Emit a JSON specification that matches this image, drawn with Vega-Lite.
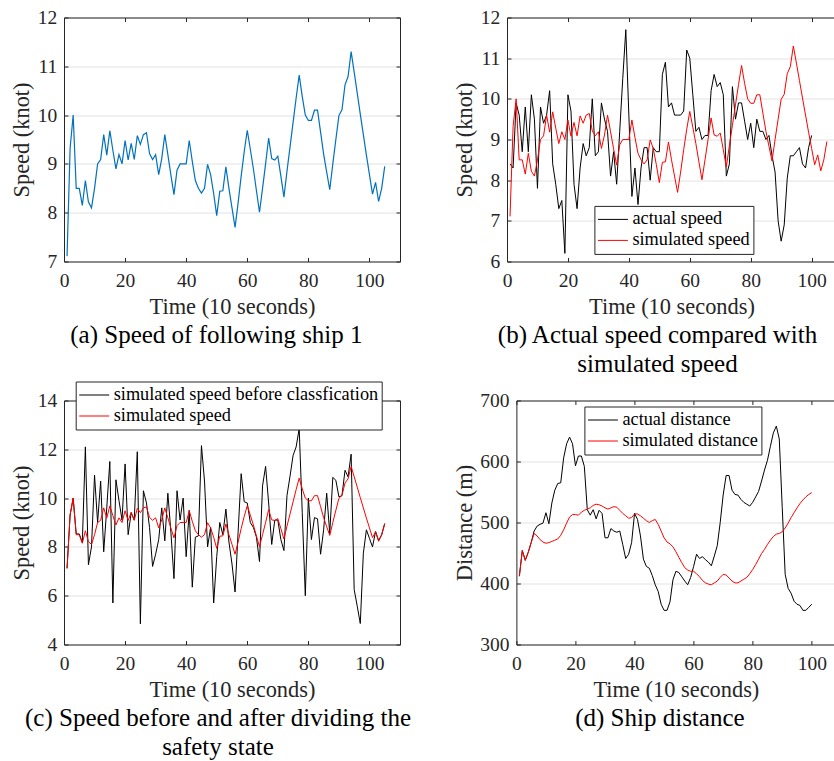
{
"$schema": "https://vega.github.io/schema/vega-lite/v6.json",
"background": "white",
"padding": {"left": 10, "top": 7.5, "right": 0, "bottom": 0},
"config": {
  "font": "Liberation Serif",
  "view": {"stroke": null},
  "axis": {"labelFont": "Liberation Serif", "labelFontSize": 19.5, "labelColor": "#262626", "titleFont": "Liberation Serif", "titleFontSize": 22.4, "titleFontWeight": "normal", "titleColor": "#262626", "domainColor": "#262626", "tickColor": "#262626", "tickSize": -4, "domainWidth": 1, "tickWidth": 1, "gridColor": "#e2e2e2", "gridWidth": 1, "labelFlush": false, "labelOverlap": false},
  "axisX": {"labelPadding": 14, "titlePadding": 5.5},
  "axisY": {"labelPadding": 11.3, "titlePadding": 3.5},
  "title": {"font": "Liberation Serif", "fontSize": 25, "fontWeight": "normal", "color": "#000000", "orient": "bottom", "anchor": "middle", "frame": "group", "offset": 5, "lineHeight": 29},
  "legend": {"labelFont": "Liberation Serif", "labelFontSize": 18.3, "labelColor": "#000000", "labelLimit": 500, "symbolType": "stroke", "symbolSize": 900, "symbolStrokeWidth": 1, "strokeColor": "#262626", "fillColor": "#ffffff", "padding": 3, "rowPadding": 0, "clipHeight": 21, "labelOffset": 4, "cornerRadius": 0}
},
"datasets": {
  "speed": [
    {"t":1,"simulated speed":7.11,"actual speed":8.4,"simulated speed before classfication":7.13},
    {"t":2,"simulated speed":9.32,"actual speed":8.3,"simulated speed before classfication":9.3},
    {"t":3,"simulated speed":10.0,"actual speed":9.9,"simulated speed before classfication":10.0},
    {"t":4,"simulated speed":8.5,"actual speed":9.6,"simulated speed before classfication":8.53},
    {"t":5,"simulated speed":8.5,"actual speed":8.7,"simulated speed before classfication":8.53},
    {"t":6,"simulated speed":8.15,"actual speed":9.8,"simulated speed before classfication":8.18},
    {"t":7,"simulated speed":8.66,"actual speed":8.7,"simulated speed before classfication":12.1},
    {"t":8,"simulated speed":8.22,"actual speed":10.1,"simulated speed before classfication":7.27},
    {"t":9,"simulated speed":8.1,"actual speed":9.5,"simulated speed before classfication":8.0},
    {"t":10,"simulated speed":8.5,"actual speed":7.8,"simulated speed before classfication":10.94},
    {"t":11,"simulated speed":9.0,"actual speed":9.8,"simulated speed before classfication":9.0},
    {"t":12,"simulated speed":9.09,"actual speed":9.4,"simulated speed before classfication":10.7},
    {"t":13,"simulated speed":9.6,"actual speed":9.6,"simulated speed before classfication":7.8},
    {"t":14,"simulated speed":9.18,"actual speed":10.2,"simulated speed before classfication":9.6},
    {"t":15,"simulated speed":9.68,"actual speed":8.4,"simulated speed before classfication":11.5},
    {"t":16,"simulated speed":9.28,"actual speed":7.9,"simulated speed before classfication":5.7},
    {"t":17,"simulated speed":8.9,"actual speed":7.3,"simulated speed before classfication":10.75},
    {"t":18,"simulated speed":9.19,"actual speed":7.5,"simulated speed before classfication":9.9},
    {"t":19,"simulated speed":9.0,"actual speed":6.2,"simulated speed before classfication":9.1},
    {"t":20,"simulated speed":9.48,"actual speed":10.1,"simulated speed before classfication":11.4},
    {"t":21,"simulated speed":9.08,"actual speed":9.7,"simulated speed before classfication":8.5},
    {"t":22,"simulated speed":9.42,"actual speed":7.9,"simulated speed before classfication":9.4},
    {"t":23,"simulated speed":9.09,"actual speed":7.3,"simulated speed before classfication":9.1},
    {"t":24,"simulated speed":9.58,"actual speed":8.3,"simulated speed before classfication":11.9},
    {"t":25,"simulated speed":9.4,"actual speed":8.9,"simulated speed before classfication":4.85},
    {"t":26,"simulated speed":9.6,"actual speed":8.6,"simulated speed before classfication":10.3},
    {"t":27,"simulated speed":9.64,"actual speed":8.8,"simulated speed before classfication":9.8},
    {"t":28,"simulated speed":9.21,"actual speed":10.0,"simulated speed before classfication":8.8},
    {"t":29,"simulated speed":9.09,"actual speed":8.6,"simulated speed before classfication":7.2},
    {"t":30,"simulated speed":9.19,"actual speed":8.7,"simulated speed before classfication":7.7},
    {"t":31,"simulated speed":8.78,"actual speed":9.9,"simulated speed before classfication":8.3},
    {"t":32,"simulated speed":9.11,"actual speed":9.5,"simulated speed before classfication":9.6},
    {"t":33,"simulated speed":9.6,"actual speed":9.2,"simulated speed before classfication":8.25},
    {"t":34,"simulated speed":9.19,"actual speed":8.1,"simulated speed before classfication":10.2},
    {"t":35,"simulated speed":8.77,"actual speed":8.7,"simulated speed before classfication":8.6},
    {"t":36,"simulated speed":8.37,"actual speed":7.9,"simulated speed before classfication":6.7},
    {"t":37,"simulated speed":8.87,"actual speed":9.2,"simulated speed before classfication":10.3},
    {"t":38,"simulated speed":9.0,"actual speed":10.5,"simulated speed before classfication":9.1},
    {"t":39,"simulated speed":9.0,"actual speed":11.7,"simulated speed before classfication":10.0},
    {"t":40,"simulated speed":9.0,"actual speed":9.6,"simulated speed before classfication":7.6},
    {"t":41,"simulated speed":9.48,"actual speed":7.6,"simulated speed before classfication":9.5},
    {"t":42,"simulated speed":9.05,"actual speed":8.3,"simulated speed before classfication":6.35},
    {"t":43,"simulated speed":8.66,"actual speed":7.4,"simulated speed before classfication":8.4},
    {"t":44,"simulated speed":8.5,"actual speed":8.3,"simulated speed before classfication":8.45},
    {"t":45,"simulated speed":8.4,"actual speed":8.8,"simulated speed before classfication":12.15},
    {"t":46,"simulated speed":8.5,"actual speed":8.8,"simulated speed before classfication":10.7},
    {"t":47,"simulated speed":8.99,"actual speed":8.0,"simulated speed before classfication":8.0},
    {"t":48,"simulated speed":8.78,"actual speed":8.8,"simulated speed before classfication":8.8},
    {"t":49,"simulated speed":8.39,"actual speed":8.7,"simulated speed before classfication":5.7},
    {"t":50,"simulated speed":7.94,"actual speed":8.7,"simulated speed before classfication":7.6},
    {"t":51,"simulated speed":8.44,"actual speed":10.6,"simulated speed before classfication":9.0},
    {"t":52,"simulated speed":8.45,"actual speed":10.9,"simulated speed before classfication":8.5},
    {"t":53,"simulated speed":8.94,"actual speed":9.8,"simulated speed before classfication":9.55},
    {"t":54,"simulated speed":8.5,"actual speed":9.9,"simulated speed before classfication":8.2},
    {"t":55,"simulated speed":8.1,"actual speed":9.6,"simulated speed before classfication":7.3},
    {"t":56,"simulated speed":7.7,"actual speed":9.6,"simulated speed before classfication":6.15},
    {"t":57,"simulated speed":8.2,"actual speed":9.6,"simulated speed before classfication":8.6},
    {"t":58,"simulated speed":8.75,"actual speed":9.7,"simulated speed before classfication":11.0},
    {"t":59,"simulated speed":9.25,"actual speed":11.2,"simulated speed before classfication":9.85},
    {"t":60,"simulated speed":9.69,"actual speed":11.0,"simulated speed before classfication":9.8},
    {"t":61,"simulated speed":9.3,"actual speed":10.1,"simulated speed before classfication":9.0},
    {"t":62,"simulated speed":8.9,"actual speed":9.2,"simulated speed before classfication":8.8},
    {"t":63,"simulated speed":8.45,"actual speed":9.3,"simulated speed before classfication":8.4},
    {"t":64,"simulated speed":8.01,"actual speed":9.0,"simulated speed before classfication":7.4},
    {"t":65,"simulated speed":8.5,"actual speed":9.1,"simulated speed before classfication":10.5},
    {"t":66,"simulated speed":9.0,"actual speed":9.1,"simulated speed before classfication":11.3},
    {"t":67,"simulated speed":9.53,"actual speed":10.2,"simulated speed before classfication":9.8},
    {"t":68,"simulated speed":9.11,"actual speed":10.6,"simulated speed before classfication":8.1},
    {"t":69,"simulated speed":9.08,"actual speed":10.3,"simulated speed before classfication":9.1},
    {"t":70,"simulated speed":9.16,"actual speed":10.4,"simulated speed before classfication":9.1},
    {"t":71,"simulated speed":8.75,"actual speed":10.1,"simulated speed before classfication":8.3},
    {"t":72,"simulated speed":8.32,"actual speed":8.1,"simulated speed before classfication":7.85},
    {"t":73,"simulated speed":8.85,"actual speed":8.4,"simulated speed before classfication":10.1},
    {"t":74,"simulated speed":9.35,"actual speed":10.3,"simulated speed before classfication":10.9},
    {"t":75,"simulated speed":9.85,"actual speed":9.5,"simulated speed before classfication":11.75},
    {"t":76,"simulated speed":10.35,"actual speed":9.9,"simulated speed before classfication":12.1},
    {"t":77,"simulated speed":10.82,"actual speed":9.9,"simulated speed before classfication":12.85},
    {"t":78,"simulated speed":10.38,"actual speed":9.45,"simulated speed before classfication":9.4},
    {"t":79,"simulated speed":10.0,"actual speed":9.0,"simulated speed before classfication":6.0},
    {"t":80,"simulated speed":9.89,"actual speed":9.4,"simulated speed before classfication":10.0},
    {"t":81,"simulated speed":9.89,"actual speed":8.8,"simulated speed before classfication":8.3},
    {"t":82,"simulated speed":10.1,"actual speed":9.5,"simulated speed before classfication":9.2},
    {"t":83,"simulated speed":10.1,"actual speed":9.2,"simulated speed before classfication":9.15},
    {"t":84,"simulated speed":9.65,"actual speed":9.2,"simulated speed before classfication":7.7},
    {"t":85,"simulated speed":9.2,"actual speed":9.0,"simulated speed before classfication":8.7},
    {"t":86,"simulated speed":8.83,"actual speed":9.1,"simulated speed before classfication":10.2},
    {"t":87,"simulated speed":8.47,"actual speed":8.6,"simulated speed before classfication":8.55},
    {"t":88,"simulated speed":9.0,"actual speed":8.2,"simulated speed before classfication":10.85},
    {"t":89,"simulated speed":9.5,"actual speed":7.0,"simulated speed before classfication":10.73},
    {"t":90,"simulated speed":9.99,"actual speed":6.5,"simulated speed before classfication":10.05},
    {"t":91,"simulated speed":10.11,"actual speed":6.9,"simulated speed before classfication":10.1},
    {"t":92,"simulated speed":10.62,"actual speed":8.05,"simulated speed before classfication":11.14},
    {"t":93,"simulated speed":10.79,"actual speed":8.6,"simulated speed before classfication":10.87},
    {"t":94,"simulated speed":11.3,"actual speed":8.6,"simulated speed before classfication":11.8},
    {"t":95,"simulated speed":10.88,"actual speed":8.7,"simulated speed before classfication":6.25},
    {"t":96,"simulated speed":10.45,"actual speed":8.8,"simulated speed before classfication":5.57},
    {"t":97,"simulated speed":10.02,"actual speed":8.4,"simulated speed before classfication":4.86},
    {"t":98,"simulated speed":9.6,"actual speed":8.3,"simulated speed before classfication":7.74},
    {"t":99,"simulated speed":9.18,"actual speed":8.8,"simulated speed before classfication":8.7},
    {"t":100,"simulated speed":8.78,"actual speed":9.1,"simulated speed before classfication":8.35},
    {"t":101,"simulated speed":8.38,"simulated speed before classfication":8.0},
    {"t":102,"simulated speed":8.62,"simulated speed before classfication":8.63},
    {"t":103,"simulated speed":8.23,"simulated speed before classfication":8.26},
    {"t":104,"simulated speed":8.5,"simulated speed before classfication":8.5},
    {"t":105,"simulated speed":8.95,"simulated speed before classfication":8.96}
  ],
  "dist": [
    {"t":1,"actual distance":412,"simulated distance":412},
    {"t":2,"actual distance":454,"simulated distance":454},
    {"t":3,"actual distance":438,"simulated distance":438},
    {"t":4,"actual distance":451,"simulated distance":451},
    {"t":5,"actual distance":467,"simulated distance":467},
    {"t":6,"actual distance":486,"simulated distance":482},
    {"t":7,"actual distance":494,"simulated distance":478},
    {"t":8,"actual distance":497,"simulated distance":472},
    {"t":9,"actual distance":499,"simulated distance":468},
    {"t":10,"actual distance":516,"simulated distance":466},
    {"t":11,"actual distance":498,"simulated distance":467},
    {"t":12,"actual distance":532,"simulated distance":469},
    {"t":13,"actual distance":553,"simulated distance":471},
    {"t":14,"actual distance":564,"simulated distance":473},
    {"t":15,"actual distance":565,"simulated distance":479},
    {"t":16,"actual distance":606,"simulated distance":488},
    {"t":17,"actual distance":629,"simulated distance":499},
    {"t":18,"actual distance":640,"simulated distance":509},
    {"t":19,"actual distance":629,"simulated distance":513},
    {"t":20,"actual distance":593,"simulated distance":513},
    {"t":21,"actual distance":609,"simulated distance":512},
    {"t":22,"actual distance":609,"simulated distance":517},
    {"t":23,"actual distance":592,"simulated distance":520},
    {"t":24,"actual distance":521,"simulated distance":522},
    {"t":25,"actual distance":512,"simulated distance":524},
    {"t":26,"actual distance":521,"simulated distance":528},
    {"t":27,"actual distance":506,"simulated distance":530},
    {"t":28,"actual distance":520,"simulated distance":529},
    {"t":29,"actual distance":515,"simulated distance":527},
    {"t":30,"actual distance":475,"simulated distance":524},
    {"t":31,"actual distance":475,"simulated distance":522},
    {"t":32,"actual distance":490,"simulated distance":524},
    {"t":33,"actual distance":486,"simulated distance":526},
    {"t":34,"actual distance":484,"simulated distance":525},
    {"t":35,"actual distance":486,"simulated distance":520},
    {"t":36,"actual distance":464,"simulated distance":515},
    {"t":37,"actual distance":441,"simulated distance":511},
    {"t":38,"actual distance":448,"simulated distance":507},
    {"t":39,"actual distance":467,"simulated distance":508},
    {"t":40,"actual distance":515,"simulated distance":514},
    {"t":41,"actual distance":505,"simulated distance":514},
    {"t":42,"actual distance":478,"simulated distance":511},
    {"t":43,"actual distance":440,"simulated distance":507},
    {"t":44,"actual distance":428,"simulated distance":503},
    {"t":45,"actual distance":425,"simulated distance":500},
    {"t":46,"actual distance":413,"simulated distance":503},
    {"t":47,"actual distance":398,"simulated distance":505},
    {"t":48,"actual distance":387,"simulated distance":497},
    {"t":49,"actual distance":366,"simulated distance":486},
    {"t":50,"actual distance":356,"simulated distance":475},
    {"t":51,"actual distance":356,"simulated distance":468},
    {"t":52,"actual distance":370,"simulated distance":465},
    {"t":53,"actual distance":406,"simulated distance":460},
    {"t":54,"actual distance":420,"simulated distance":452},
    {"t":55,"actual distance":418,"simulated distance":443},
    {"t":56,"actual distance":411,"simulated distance":434},
    {"t":57,"actual distance":404,"simulated distance":426},
    {"t":58,"actual distance":398,"simulated distance":422},
    {"t":59,"actual distance":410,"simulated distance":420},
    {"t":60,"actual distance":428,"simulated distance":420},
    {"t":61,"actual distance":448,"simulated distance":416},
    {"t":62,"actual distance":441,"simulated distance":411},
    {"t":63,"actual distance":444,"simulated distance":405},
    {"t":64,"actual distance":439,"simulated distance":401},
    {"t":65,"actual distance":435,"simulated distance":399},
    {"t":66,"actual distance":429,"simulated distance":398},
    {"t":67,"actual distance":445,"simulated distance":401},
    {"t":68,"actual distance":462,"simulated distance":404},
    {"t":69,"actual distance":500,"simulated distance":410},
    {"t":70,"actual distance":545,"simulated distance":415},
    {"t":71,"actual distance":577,"simulated distance":414},
    {"t":72,"actual distance":577,"simulated distance":409},
    {"t":73,"actual distance":553,"simulated distance":404},
    {"t":74,"actual distance":546,"simulated distance":401},
    {"t":75,"actual distance":545,"simulated distance":401},
    {"t":76,"actual distance":538,"simulated distance":404},
    {"t":77,"actual distance":533,"simulated distance":407},
    {"t":78,"actual distance":530,"simulated distance":410},
    {"t":79,"actual distance":527,"simulated distance":416},
    {"t":80,"actual distance":533,"simulated distance":423},
    {"t":81,"actual distance":542,"simulated distance":431},
    {"t":82,"actual distance":551,"simulated distance":440},
    {"t":83,"actual distance":568,"simulated distance":449},
    {"t":84,"actual distance":586,"simulated distance":456},
    {"t":85,"actual distance":602,"simulated distance":464},
    {"t":86,"actual distance":625,"simulated distance":471},
    {"t":87,"actual distance":647,"simulated distance":477},
    {"t":88,"actual distance":658,"simulated distance":481},
    {"t":89,"actual distance":637,"simulated distance":482},
    {"t":90,"actual distance":525,"simulated distance":485},
    {"t":91,"actual distance":415,"simulated distance":491},
    {"t":92,"actual distance":392,"simulated distance":499},
    {"t":93,"actual distance":384,"simulated distance":508},
    {"t":94,"actual distance":371,"simulated distance":516},
    {"t":95,"actual distance":366,"simulated distance":524},
    {"t":96,"actual distance":364,"simulated distance":531},
    {"t":97,"actual distance":356,"simulated distance":537},
    {"t":98,"actual distance":356,"simulated distance":542},
    {"t":99,"actual distance":361,"simulated distance":546},
    {"t":100,"actual distance":366,"simulated distance":549}
  ]
},
"spacing": 3,
"resolve": {"scale": {"color": "independent"}, "legend": {"color": "independent"}},
"vconcat": [
  {
    "hconcat": [
      {
        "width": 336, "height": 244,
        "title": {"text": "(a) Speed of following ship 1", "dx": -15.6, "orient": "bottom", "anchor": "middle", "frame": "group"},
        "data": {"name": "speed"},
        "layer": [
          {"mark": {"type": "line", "color": "#0072BD", "strokeWidth": 1.2},
           "encoding": {
             "x": {"field": "t", "type": "quantitative", "scale": {"domain": [0, 110], "nice": false, "zero": false}, "axis": {"values": [0, 20, 40, 60, 80, 100], "title": "Time (10 seconds)", "grid": false}},
             "y": {"field": "simulated speed", "type": "quantitative", "scale": {"domain": [7, 12], "nice": false, "zero": false}, "axis": {"values": [7, 8, 9, 10, 11, 12], "title": "Speed (knot)", "grid": true}}
           }},
          {"mark": {"type": "line", "opacity": 0},
           "encoding": {
             "x": {"field": "t", "type": "quantitative", "axis": {"orient": "top", "values": [0, 20, 40, 60, 80, 100], "labels": false, "title": null, "grid": false}},
             "y": {"field": "simulated speed", "type": "quantitative", "axis": {"orient": "right", "values": [7, 8, 9, 10, 11, 12], "labels": false, "title": null, "grid": false}}
           }}
        ],
        "resolve": {"axis": {"x": "independent", "y": "independent"}}
      },
      {
        "width": 329, "height": 244,
        "title": {"text": ["(b) Actual speed compared with", "simulated speed"], "dx": -14, "orient": "bottom", "anchor": "middle", "frame": "group"},
        "data": {"name": "speed"},
        "transform": [{"fold": ["actual speed", "simulated speed"], "as": ["series", "value"]}],
        "layer": [
          {"mark": {"type": "line", "strokeWidth": 1},
           "encoding": {
             "x": {"field": "t", "type": "quantitative", "scale": {"domain": [0, 108], "nice": false, "zero": false}, "axis": {"values": [0, 20, 40, 60, 80, 100], "title": "Time (10 seconds)", "grid": false}},
             "y": {"field": "value", "type": "quantitative", "scale": {"domain": [6, 12], "nice": false, "zero": false}, "axis": {"values": [6, 7, 8, 9, 10, 11, 12], "title": "Speed (knot)", "grid": true}},
             "color": {"field": "series", "type": "nominal", "scale": {"domain": ["actual speed", "simulated speed"], "range": ["#000000", "#ff0000"]}, "legend": {"orient": "none", "legendX": 87.4, "legendY": 188.4, "title": null}}
           }},
          {"mark": {"type": "line", "opacity": 0},
           "encoding": {
             "x": {"field": "t", "type": "quantitative", "axis": {"orient": "top", "values": [0, 20, 40, 60, 80, 100], "labels": false, "title": null, "grid": false}},
             "y": {"field": "value", "type": "quantitative", "axis": null},
             "detail": {"field": "series"}
           }}
        ],
        "resolve": {"axis": {"x": "independent", "y": "independent"}}
      }
    ],
    "spacing": 107,
    "bounds": "flush",
    "resolve": {"scale": {"color": "independent"}, "legend": {"color": "independent"}}
  },
  {
    "hconcat": [
      {
        "width": 336, "height": 244,
        "title": {"text": ["(c) Speed before and after dividing the", "safety state"], "dx": -14, "orient": "bottom", "anchor": "middle", "frame": "group"},
        "data": {"name": "speed"},
        "transform": [{"fold": ["simulated speed before classfication", "simulated speed"], "as": ["series", "value"]}],
        "layer": [
          {"mark": {"type": "line", "strokeWidth": 1},
           "encoding": {
             "x": {"field": "t", "type": "quantitative", "scale": {"domain": [0, 110], "nice": false, "zero": false}, "axis": {"values": [0, 20, 40, 60, 80, 100], "title": "Time (10 seconds)", "grid": false}},
             "y": {"field": "value", "type": "quantitative", "scale": {"domain": [4, 14], "nice": false, "zero": false}, "axis": {"values": [4, 6, 8, 10, 12, 14], "title": "Speed (knot)", "grid": true}},
             "color": {"field": "series", "type": "nominal", "scale": {"domain": ["simulated speed before classfication", "simulated speed"], "range": ["#000000", "#ff0000"]}, "legend": {"orient": "none", "legendX": 11.7, "legendY": -19, "title": null}}
           }},
          {"mark": {"type": "line", "opacity": 0},
           "encoding": {
             "x": {"field": "t", "type": "quantitative", "axis": {"orient": "top", "values": [0, 20, 40, 60, 80, 100], "labels": false, "title": null, "grid": false}},
             "y": {"field": "value", "type": "quantitative", "axis": {"orient": "right", "values": [4, 6, 8, 10, 12, 14], "labels": false, "title": null, "grid": false}},
             "detail": {"field": "series"}
           }}
        ],
        "resolve": {"axis": {"x": "independent", "y": "independent"}}
      },
      {
        "width": 319, "height": 244,
        "title": {"text": "(d) Ship distance", "dx": -16, "orient": "bottom", "anchor": "middle", "frame": "group"},
        "data": {"name": "dist"},
        "transform": [{"fold": ["actual distance", "simulated distance"], "as": ["series", "value"]}],
        "layer": [
          {"mark": {"type": "line", "strokeWidth": 1},
           "encoding": {
             "x": {"field": "t", "type": "quantitative", "scale": {"domain": [0, 108], "nice": false, "zero": false}, "axis": {"values": [0, 20, 40, 60, 80, 100], "title": "Time (10 seconds)", "grid": false}},
             "y": {"field": "value", "type": "quantitative", "scale": {"domain": [300, 700], "nice": false, "zero": false}, "axis": {"values": [300, 400, 500, 600, 700], "title": "Distance (m)", "grid": true}},
             "color": {"field": "series", "type": "nominal", "scale": {"domain": ["actual distance", "simulated distance"], "range": ["#000000", "#ff0000"]}, "legend": {"orient": "none", "legendX": 68, "legendY": 6, "title": null}}
           }},
          {"mark": {"type": "line", "opacity": 0},
           "encoding": {
             "x": {"field": "t", "type": "quantitative", "axis": {"orient": "top", "values": [0, 20, 40, 60, 80, 100], "labels": false, "title": null, "grid": false}},
             "y": {"field": "value", "type": "quantitative", "axis": null},
             "detail": {"field": "series"}
           }}
        ],
        "resolve": {"axis": {"x": "independent", "y": "independent"}}
      }
    ],
    "spacing": 116.4,
    "bounds": "flush",
    "resolve": {"scale": {"color": "independent"}, "legend": {"color": "independent"}}
  }
]
}
